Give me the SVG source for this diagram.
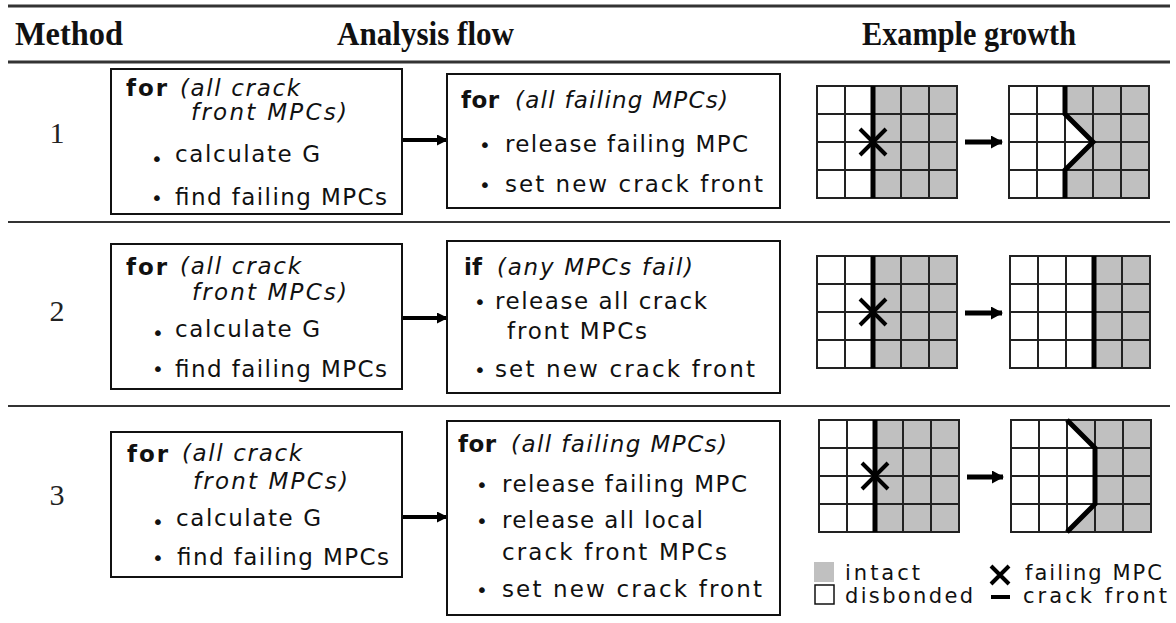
<svg xmlns="http://www.w3.org/2000/svg" xmlns:xlink="http://www.w3.org/1999/xlink" width="1176" height="623" viewBox="0 0 1176 623">
<style>
.hdr{font-family:"Liberation Serif",serif;font-weight:bold;font-size:34px;fill:#111}
.num{font-family:"Liberation Serif",serif;font-size:30px;fill:#222;text-anchor:middle}
.t{font-family:"DejaVu Sans",Verdana,sans-serif;font-size:23px;fill:#111}
.lg{font-family:"DejaVu Sans",Verdana,sans-serif;font-size:21px;fill:#111}
.b{font-weight:bold}
.i{font-style:italic}
.bul{font-family:"DejaVu Sans",sans-serif;font-size:20px;fill:#111}
.box{fill:#fff;stroke:#111;stroke-width:2}
.rule{stroke:#333;stroke-width:3}
.sep{stroke:#333;stroke-width:2}
.gl{fill:none;stroke:#222;stroke-width:2}
.gray{fill:#c0c0c0}
.wh{fill:#fff}
.cf{stroke:#000;stroke-width:5;fill:none}
.xm{stroke:#000;stroke-width:4}
.arr{stroke:#000;stroke-width:4}
.garr{stroke:#000;stroke-width:5}
</style>
<defs>
<marker id="ah" markerUnits="userSpaceOnUse" markerWidth="11" markerHeight="11" refX="10" refY="5.5" orient="auto">
<path d="M0,0 L11,5.5 L0,11 z" fill="#000"/>
</marker>
<marker id="gah" markerUnits="userSpaceOnUse" markerWidth="12" markerHeight="13" refX="11" refY="6.5" orient="auto">
<path d="M0,0 L12,6.5 L0,13 z" fill="#000"/>
</marker>
<g id="gridlines" class="gl">
<rect x="0" y="0" width="140" height="112"/>
<path d="M28,0V112M56,0V112M84,0V112M112,0V112M0,28H140M0,56H140M0,84H140"/>
</g>
<g id="xmark" class="xm">
<path d="M-13,-13L13,13M13,-13L-13,13"/>
</g>
</defs>

<g id="header">
<line class="rule" x1="8" y1="6" x2="1170" y2="6"/>
<line class="rule" x1="8" y1="62" x2="1170" y2="62"/>
<line class="sep" x1="8" y1="222" x2="1170" y2="222"/>
<line class="sep" x1="8" y1="406" x2="1170" y2="406"/>
<text class="hdr" x="15" y="45" textLength="108" lengthAdjust="spacingAndGlyphs">Method</text>
<text class="hdr" x="337" y="45" textLength="177" lengthAdjust="spacingAndGlyphs">Analysis flow</text>
<text class="hdr" x="862" y="45" textLength="214" lengthAdjust="spacingAndGlyphs">Example growth</text>
</g>

<g id="labels">
<text class="num" x="57" y="143">1</text>
<text class="num" x="57" y="321">2</text>
<text class="num" x="57" y="505">3</text>
</g>

<g id="connectors">
<line class="arr" x1="402" y1="140" x2="447" y2="140" marker-end="url(#ah)"/>
<line class="arr" x1="402" y1="318" x2="447" y2="318" marker-end="url(#ah)"/>
<line class="arr" x1="402" y1="517" x2="447" y2="517" marker-end="url(#ah)"/>
<line class="garr" x1="965" y1="142" x2="1002" y2="142" marker-end="url(#gah)"/>
<line class="garr" x1="965" y1="313" x2="1002" y2="313" marker-end="url(#gah)"/>
<line class="garr" x1="967" y1="477" x2="1003" y2="477" marker-end="url(#gah)"/>
</g>

<g id="m1-calc">
<rect class="box" x="111" y="69" width="291" height="145"/>
<text class="t b" x="126" y="96" textLength="41" lengthAdjust="spacing">for</text>
<text class="t i" x="180" y="96" textLength="120" lengthAdjust="spacing">(all crack</text>
<text class="t i" x="191" y="120" textLength="156" lengthAdjust="spacing">front MPCs)</text>
<text class="bul" x="151" y="166">•</text>
<text class="t" x="175" y="162" textLength="145" lengthAdjust="spacing">calculate G</text>
<text class="bul" x="151" y="205">•</text>
<text class="t" x="175" y="205" textLength="212" lengthAdjust="spacing">find failing MPCs</text>
</g>

<g id="m1-release">
<rect class="box" x="447" y="74" width="333" height="134"/>
<text class="t b" x="461" y="108" textLength="38" lengthAdjust="spacing">for</text>
<text class="t i" x="515" y="108" textLength="213" lengthAdjust="spacing">(all failing MPCs)</text>
<text class="bul" x="479" y="152">•</text>
<text class="t" x="505" y="152" textLength="243" lengthAdjust="spacing">release failing MPC</text>
<text class="bul" x="479" y="192">•</text>
<text class="t" x="505" y="192" textLength="258" lengthAdjust="spacing">set new crack front</text>
</g>

<g id="m2-calc">
<rect class="box" x="111" y="244" width="291" height="145"/>
<text class="t b" x="126" y="275" textLength="41" lengthAdjust="spacing">for</text>
<text class="t i" x="180" y="274" textLength="121" lengthAdjust="spacing">(all crack</text>
<text class="t i" x="192" y="300" textLength="155" lengthAdjust="spacing">front MPCs)</text>
<text class="bul" x="152" y="340">•</text>
<text class="t" x="175" y="337" textLength="145" lengthAdjust="spacing">calculate G</text>
<text class="bul" x="152" y="376">•</text>
<text class="t" x="175" y="377" textLength="212" lengthAdjust="spacing">find failing MPCs</text>
</g>

<g id="m2-release">
<rect class="box" x="447" y="241" width="333" height="152"/>
<text class="t b" x="464" y="275">if</text>
<text class="t i" x="497" y="275" textLength="196" lengthAdjust="spacing">(any MPCs fail)</text>
<text class="bul" x="474" y="309">•</text>
<text class="t" x="495" y="309" textLength="212" lengthAdjust="spacing">release all crack</text>
<text class="t" x="507" y="339" textLength="140" lengthAdjust="spacing">front MPCs</text>
<text class="bul" x="474" y="377">•</text>
<text class="t" x="495" y="377" textLength="260" lengthAdjust="spacing">set new crack front</text>
</g>

<g id="m3-calc">
<rect class="box" x="111" y="432" width="291" height="145"/>
<text class="t b" x="127" y="462" textLength="41" lengthAdjust="spacing">for</text>
<text class="t i" x="182" y="461" textLength="120" lengthAdjust="spacing">(all crack</text>
<text class="t i" x="193" y="489" textLength="155" lengthAdjust="spacing">front MPCs)</text>
<text class="bul" x="152" y="529">•</text>
<text class="t" x="176" y="526" textLength="145" lengthAdjust="spacing">calculate G</text>
<text class="bul" x="152" y="565">•</text>
<text class="t" x="177" y="565" textLength="212" lengthAdjust="spacing">find failing MPCs</text>
</g>

<g id="m3-release">
<rect class="box" x="447" y="421" width="333" height="194"/>
<text class="t b" x="458" y="452" textLength="38" lengthAdjust="spacing">for</text>
<text class="t i" x="511" y="452" textLength="216" lengthAdjust="spacing">(all failing MPCs)</text>
<text class="bul" x="476" y="492">•</text>
<text class="t" x="502" y="492" textLength="245" lengthAdjust="spacing">release failing MPC</text>
<text class="bul" x="476" y="528">•</text>
<text class="t" x="502" y="528" textLength="201" lengthAdjust="spacing">release all local</text>
<text class="t" x="502" y="560" textLength="225" lengthAdjust="spacing">crack front MPCs</text>
<text class="bul" x="476" y="597">•</text>
<text class="t" x="502" y="597" textLength="260" lengthAdjust="spacing">set new crack front</text>
</g>

<g id="grid1a" transform="translate(817,86)">
<rect class="wh" x="0" y="0" width="140" height="112"/>
<rect class="gray" x="56" y="0" width="84" height="112"/>
<use xlink:href="#gridlines"/>
<path class="cf" d="M56,0V112"/>
<use xlink:href="#xmark" x="56" y="56"/>
</g>
<g id="grid1b" transform="translate(1009,86)">
<rect class="wh" x="0" y="0" width="140" height="112"/>
<rect class="gray" x="56" y="0" width="84" height="112"/>
<polygon class="wh" points="56,28 84,56 56,84"/>
<use xlink:href="#gridlines"/>
<path class="cf" d="M56,0V28L84,56L56,84V112"/>
</g>

<g id="grid2a" transform="translate(817,256)">
<rect class="wh" x="0" y="0" width="140" height="112"/>
<rect class="gray" x="56" y="0" width="84" height="112"/>
<use xlink:href="#gridlines"/>
<path class="cf" d="M56,0V112"/>
<use xlink:href="#xmark" x="56" y="56"/>
</g>
<g id="grid2b" transform="translate(1010,256)">
<rect class="wh" x="0" y="0" width="140" height="112"/>
<rect class="gray" x="84" y="0" width="56" height="112"/>
<use xlink:href="#gridlines"/>
<path class="cf" d="M84,0V112"/>
</g>

<g id="grid3a" transform="translate(819,420)">
<rect class="wh" x="0" y="0" width="140" height="112"/>
<rect class="gray" x="56" y="0" width="84" height="112"/>
<use xlink:href="#gridlines"/>
<path class="cf" d="M56,0V112"/>
<use xlink:href="#xmark" x="56" y="56"/>
</g>
<g id="grid3b" transform="translate(1011,420)">
<rect class="wh" x="0" y="0" width="140" height="112"/>
<rect class="gray" x="56" y="0" width="84" height="112"/>
<polygon class="wh" points="56,0 84,28 84,84 56,112"/>
<use xlink:href="#gridlines"/>
<path class="cf" d="M56,0L84,28V84L56,112"/>
</g>

<g id="legend">
<rect class="gray" x="814" y="562" width="20" height="20"/>
<text class="lg" x="845" y="580" textLength="75" lengthAdjust="spacing">intact</text>
<rect x="815" y="585" width="19" height="19" fill="#fff" stroke="#111" stroke-width="1.5"/>
<text class="lg" x="845" y="603" textLength="128" lengthAdjust="spacing">disbonded</text>
<path class="xm" d="M991,566L1009,584M1009,566L991,584"/>
<text class="lg" x="1025" y="580" textLength="137" lengthAdjust="spacing">failing MPC</text>
<line stroke="#000" stroke-width="4" x1="991" y1="597" x2="1010" y2="597"/>
<text class="lg" x="1023" y="603" textLength="144" lengthAdjust="spacing">crack front</text>
</g>
</svg>
